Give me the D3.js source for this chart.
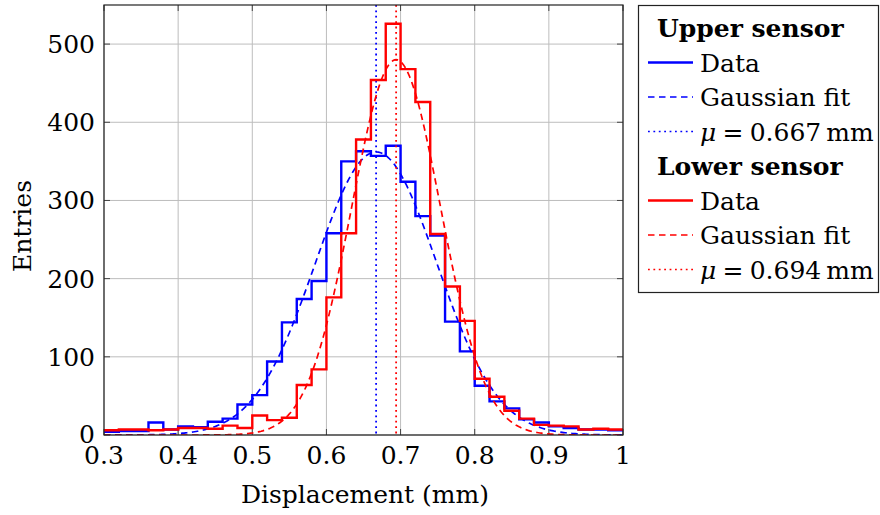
<html lang="en">
<head>
    <meta charset="UTF-8">
    <title>Displacement histogram</title>
    <style>
        body { margin: 0; background: #fff; }
        text { font-family: "DejaVu Serif", "Liberation Serif", serif; }
    </style>
</head>
<body>
<script src="https://d3js.org/d3.v7.min.js"></script>

<script>
// bin lower edges (width 0.02)
const binEdges = d3.range(35).map(i => +(0.3 + i * 0.02).toFixed(2))
const binWidth = 0.02

const upperCounts = [4, 5, 5, 16, 7, 11, 10, 17, 21, 39, 51, 94, 144, 174, 197, 258, 350,
    363, 357, 370, 324, 280, 255, 145, 107, 63, 43, 34, 20, 16, 11, 9, 7, 7, 6]
const lowerCounts = [6, 7, 7, 6, 7, 9, 9, 8, 12, 9, 25, 19, 22, 64, 84, 176, 258,
    378, 454, 526, 468, 426, 257, 190, 146, 72, 49, 31, 21, 13, 12, 11, 7, 8, 7]

// gaussian fit parameters
const upperFit = { mu: 0.667, sigma: 0.082, amp: 362 }
const lowerFit = { mu: 0.694, sigma: 0.060, amp: 480 }

const xTicks = [0.3, 0.4, 0.5, 0.6, 0.7, 0.8, 0.9, 1.0]
const yTicks = [0, 100, 200, 300, 400, 500]

const m = {
    width: 880,
    height: 515,
    left: 104,
    right: 623,
    top: 5,
    bottom: 435
}
const fs = 25

const svg = d3.select('body').append('svg')
    .attr('width', m.width)
    .attr('height', m.height)

const x = d3.scaleLinear().domain([0.3, 1.0]).range([m.left, m.right])
const y = d3.scaleLinear().domain([0, 550]).range([m.bottom, m.top])

svg.append('clipPath').attr('id', 'plot')
    .append('rect')
    .attr('x', m.left).attr('y', m.top)
    .attr('width', m.right - m.left).attr('height', m.bottom - m.top)

// grid
const grid = svg.append('g').attr('stroke', '#bdbdbd').attr('stroke-width', 1)
grid.selectAll('.gx').data(xTicks).enter().append('line')
    .attr('x1', d => x(d)).attr('x2', d => x(d))
    .attr('y1', m.top).attr('y2', m.bottom)
grid.selectAll('.gy').data(yTicks).enter().append('line')
    .attr('x1', m.left).attr('x2', m.right)
    .attr('y1', d => y(d)).attr('y2', d => y(d))

// inward ticks on all four sides
const tk = svg.append('g').attr('stroke', '#444').attr('stroke-width', 1)
xTicks.forEach(t => {
    tk.append('line').attr('x1', x(t)).attr('x2', x(t)).attr('y1', m.bottom).attr('y2', m.bottom - 6)
    tk.append('line').attr('x1', x(t)).attr('x2', x(t)).attr('y1', m.top).attr('y2', m.top + 6)
})
yTicks.forEach(t => {
    tk.append('line').attr('x1', m.left).attr('x2', m.left + 6).attr('y1', y(t)).attr('y2', y(t))
    tk.append('line').attr('x1', m.right).attr('x2', m.right - 6).attr('y1', y(t)).attr('y2', y(t))
})

const plot = svg.append('g').attr('clip-path', 'url(#plot)')

const step = d3.line()
    .x(d => x(d[0]))
    .y(d => y(d[1]))
    .curve(d3.curveStepAfter)

function stepPoints(counts) {
    const pts = binEdges.map((e, i) => [e, counts[i]])
    pts.push([binEdges[binEdges.length - 1] + binWidth, counts[counts.length - 1]])
    return pts
}

const smooth = d3.line()
    .x(d => x(d[0]))
    .y(d => y(d[1]))

function fitPoints(f) {
    return d3.range(0.3, 1.0005, 0.002).map(v =>
        [v, f.amp * Math.exp(-((v - f.mu) ** 2) / (2 * f.sigma * f.sigma))])
}

const series = [
    { counts: upperCounts, fit: upperFit, color: '#0000ff' },
    { counts: lowerCounts, fit: lowerFit, color: '#ff0000' }
]

series.forEach(s => {
    plot.append('path')
        .attr('d', step(stepPoints(s.counts)))
        .attr('fill', 'none')
        .attr('stroke', s.color)
        .attr('stroke-width', 2.4)
    plot.append('path')
        .attr('d', smooth(fitPoints(s.fit)))
        .attr('fill', 'none')
        .attr('stroke', s.color)
        .attr('stroke-width', 1.7)
        .attr('stroke-dasharray', '6.5,4.5')
    plot.append('line')
        .attr('x1', x(s.fit.mu)).attr('x2', x(s.fit.mu))
        .attr('y1', m.top).attr('y2', m.bottom)
        .attr('stroke', s.color)
        .attr('stroke-width', 1.8)
        .attr('stroke-dasharray', '1.8,3.6')
})

// frame
svg.append('rect')
    .attr('x', m.left).attr('y', m.top)
    .attr('width', m.right - m.left).attr('height', m.bottom - m.top)
    .attr('fill', 'none')
    .attr('stroke', '#222')
    .attr('stroke-width', 1.2)

// tick labels
const fmt = d3.format('~g')
svg.selectAll('.xl').data(xTicks).enter().append('text')
    .attr('x', d => x(d))
    .attr('y', m.bottom + 29)
    .attr('text-anchor', 'middle')
    .attr('font-size', fs)
    .text(d => fmt(d))
svg.selectAll('.yl').data(yTicks).enter().append('text')
    .attr('x', m.left - 9)
    .attr('y', d => y(d) + (d === 0 ? 8 : 9))
    .attr('text-anchor', 'end')
    .attr('font-size', fs)
    .text(d => d)

svg.append('text')
    .attr('x', 365)
    .attr('y', 503)
    .attr('text-anchor', 'middle')
    .attr('font-size', fs)
    .text('Displacement (mm)')

svg.append('text')
    .attr('transform', 'translate(31,226) rotate(-90)')
    .attr('text-anchor', 'middle')
    .attr('font-size', fs)
    .text('Entries')

// legend
const lg = svg.append('g')
lg.append('rect')
    .attr('x', 638.5).attr('y', 5.5)
    .attr('width', 240).attr('height', 287)
    .attr('fill', '#fff')
    .attr('stroke', '#222')
    .attr('stroke-width', 1.2)

const groups = [
    { title: 'Upper sensor', color: '#0000ff', mu: '0.667', y0: 28 },
    { title: 'Lower sensor', color: '#ff0000', mu: '0.694', y0: 166 }
]
const rowGap = 34.5

groups.forEach(g => {
    lg.append('text')
        .attr('x', 657).attr('y', g.y0 + 9)
        .attr('font-size', fs)
        .attr('font-weight', 'bold')
        .text(g.title)
    const rows = [
        { dash: null, label: 'Data' },
        { dash: '6.5,4.5', label: 'Gaussian fit' },
        { dash: '1.8,3.6', label: null }
    ]
    rows.forEach((r, i) => {
        const yy = g.y0 + rowGap * (i + 1)
        lg.append('line')
            .attr('x1', 648).attr('x2', 693)
            .attr('y1', yy).attr('y2', yy)
            .attr('stroke', g.color)
            .attr('stroke-width', r.dash ? 1.7 : 2.4)
            .attr('stroke-dasharray', r.dash)
        const t = lg.append('text')
            .attr('x', 700).attr('y', yy + 9)
            .attr('font-size', fs)
        if (r.label) {
            t.text(r.label)
        } else {
            t.append('tspan').attr('font-style', 'italic').text('μ')
            t.append('tspan').text('\u2005=\u2005' + g.mu + '\u2009mm')
        }
    })
})
</script>
</body>
</html>
